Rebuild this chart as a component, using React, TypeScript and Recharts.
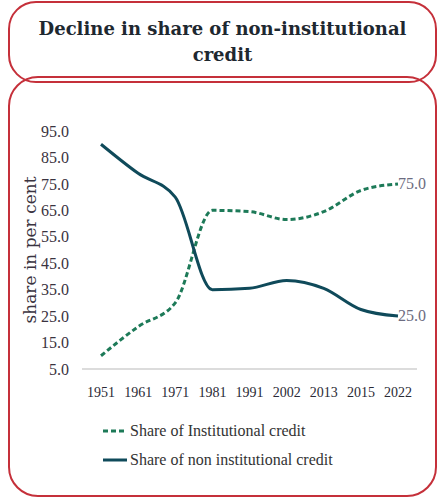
import React from 'react';
import { LineChart, Line, XAxis, YAxis, Legend, LabelList, Label } from 'recharts';

const years = ['1951', '1961', '1971', '1981', '1991', '2002', '2013', '2015', '2022'];
const institutional = [10, 21, 30, 65, 64.5, 61.5, 64.5, 72.5, 75];
const nonInstitutional = [90, 79, 70, 35, 35.5, 38.5, 35.5, 27.5, 25];
const yTicks = [5, 15, 25, 35, 45, 55, 65, 75, 85, 95];

const data = years.map((y, i) => ({ year: y, inst: institutional[i], non: nonInstitutional[i] }));

const SERIF = "'Liberation Serif', 'Times New Roman', serif";
const RED = '#c5303a';
const GREEN = '#1d7a58';
const NAVY = '#0f4a5a';

const EndLabel = (props: any) => {
  const { x, y, index, value } = props;
  if (index !== years.length - 1) return null;
  return (
    <text x={x} y={y} dy={5} fill="#6c6c80" fontSize={16} fontFamily={SERIF} textAnchor="start">
      {Number(value).toFixed(1)}
    </text>
  );
};

const LegendContent = (props: any) => {
  const { payload } = props;
  return (
    <div style={{ fontFamily: SERIF, fontSize: 16, color: '#333' }}>
      {(payload || []).map((p: any) => (
        <div key={p.value} style={{ display: 'flex', alignItems: 'center', height: 29 }}>
          <svg width={26} height={10} style={{ marginRight: 2 }}>
            <line
              x1={1}
              y1={5}
              x2={25}
              y2={5}
              stroke={p.color}
              strokeWidth={3}
              strokeDasharray={p.payload && p.payload.strokeDasharray ? '5 3' : undefined}
            />
          </svg>
          <span>{p.value}</span>
        </div>
      ))}
    </div>
  );
};

const YLabel = (props: any) => {
  const { viewBox } = props;
  const cx = viewBox.x + 30;
  const cy = viewBox.y + viewBox.height / 2;
  return (
    <text x={cx} y={cy} transform={`rotate(-90 ${cx} ${cy})`} textAnchor="middle" dominantBaseline="central"
      fill="#3a3340" fontSize={17} fontFamily="'DejaVu Serif', serif">
      share in per cent
    </text>
  );
};

export default function App() {
  return (
    <div style={{ position: 'fixed', left: 0, top: 0, width: 442, height: 498, background: '#fff' }}>
      <div style={{
        position: 'absolute', left: 8, top: 1, width: 425, height: 78, border: `2px solid ${RED}`,
        borderRadius: 28, boxSizing: 'content-box', display: 'flex', alignItems: 'center', justifyContent: 'center',
        textAlign: 'center', fontFamily: "'DejaVu Serif', serif", fontWeight: 700, fontSize: 18, lineHeight: '26px', color: '#1e2830'
      }}>
        <div style={{ marginTop: 0 }}>Decline in share of non-institutional<br />credit</div>
      </div>
      <div style={{
        position: 'absolute', left: 8, top: 76, width: 425, height: 417, border: `2px solid ${RED}`,
        borderRadius: 30
      }} />
      <div style={{ position: 'absolute', left: 0, top: 0 }}>
        <LineChart width={442} height={498} data={data} margin={{ top: 131, right: 25, bottom: 99, left: 0 }}>
          <XAxis dataKey="year" axisLine={{ stroke: '#dcdcdc', strokeWidth: 2 }} tickLine={false}
            padding={{ left: 19, right: 19 }} interval={0} height={30} tickMargin={12}
            tick={{ fill: '#2a2a35', fontSize: 14, fontFamily: SERIF }} />
          <YAxis domain={[5, 95]} ticks={yTicks} width={82} axisLine={false} tickLine={false} tickMargin={7}
            tickFormatter={(v: number) => v.toFixed(1)} interval={0}
            tick={{ fill: '#3a3340', fontSize: 16, fontFamily: SERIF }}>
            <Label content={<YLabel />} />
          </YAxis>
          <Legend layout="vertical" verticalAlign="middle" align="center" content={<LegendContent />}
            wrapperStyle={{ position: 'absolute', left: 102, top: 416, width: 300 }} />
          <Line type="monotone" dataKey="inst" name="Share of Institutional credit" stroke={GREEN}
            strokeWidth={3} strokeDasharray="5 3" dot={false} isAnimationActive={false}>
            <LabelList dataKey="inst" content={<EndLabel />} />
          </Line>
          <Line type="monotone" dataKey="non" name="Share of non institutional credit" stroke={NAVY}
            strokeWidth={3} dot={false} isAnimationActive={false}>
            <LabelList dataKey="non" content={<EndLabel />} />
          </Line>
        </LineChart>
      </div>
    </div>
  );
}
